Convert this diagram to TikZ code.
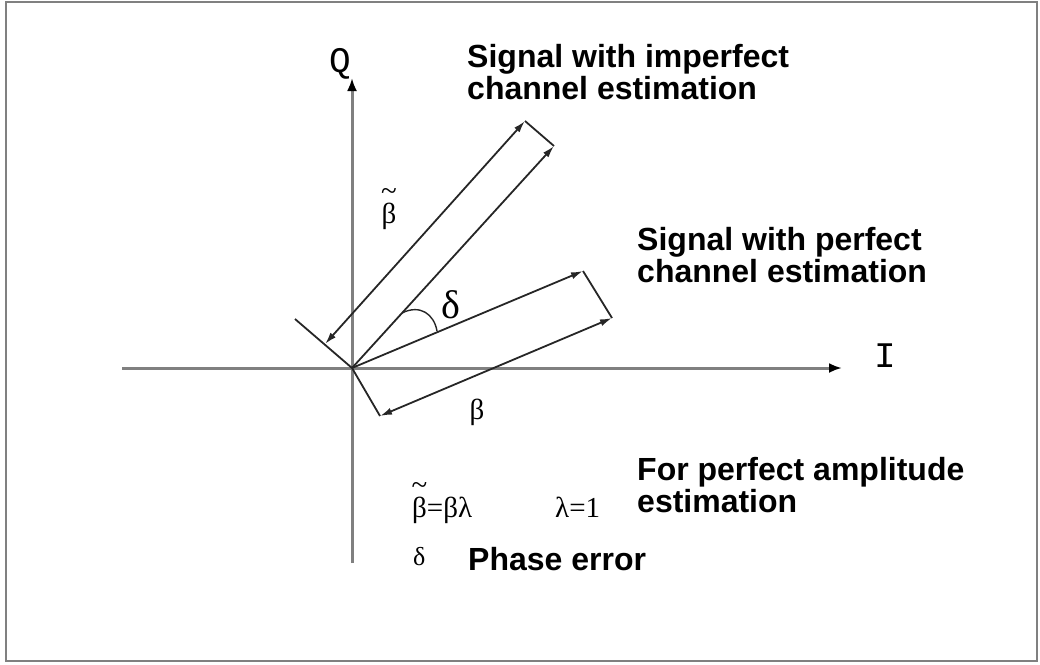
\documentclass[tikz,border=0pt]{standalone}
\usepackage{fontspec}
\setmainfont{Liberation Serif}
\newfontfamily\lsans{Liberation Sans}
\newfontfamily\lmono{Liberation Mono}
\usetikzlibrary{arrows.meta}
\newcommand\tildebeta{\setbox0\hbox{β}\rlap{\hbox to\wd0{\hss\raisebox{23pt}{\~{}}\hss}}β}
\begin{document}
\begin{tikzpicture}[x=1pt,y=-1pt,
  frame/.style={draw=black!50, line width=2.5pt},
  axis/.style={draw=black!50, line width=3pt, -{Latex[length=13pt,width=10pt,color=black]}},
  vec/.style={draw=black!85, line width=1.8pt},
  tipend/.style={-{Latex[length=12pt,width=7pt]}},
  tipboth/.style={{Latex[length=12pt,width=7pt]}-{Latex[length=12pt,width=7pt]}},
  lbl/.style={font=\lsans\bfseries\fontsize{32}{32}\selectfont, anchor=base west, inner sep=0pt},
  axlbl/.style={font=\lmono\fontsize{36}{36}\selectfont, inner sep=0pt},
  greek/.style={font=\fontsize{29}{29}\selectfont, inner sep=0pt},
]
\useasboundingbox (0,0) rectangle (1040,664);
\draw[frame] (6,2) rectangle (1037,661);

% coordinates
\coordinate (O) at (352,368);
\coordinate (Iw) at (122,368);
\coordinate (Ie) at (842,368);
\coordinate (Qs) at (352,563);
\coordinate (Qn) at (352,78);
\coordinate (A) at (554,146);
\coordinate (B) at (525,121);
\coordinate (C) at (325,344);
\coordinate (Cx) at (295,319);
\coordinate (D) at (583,271);
\coordinate (E) at (612,318);
\coordinate (F) at (380,416);
\coordinate (d1) at (402,313);
\coordinate (d2) at (437,331);

% axes
\draw[axis] (Iw) -- (Ie);
\draw[axis] (Qs) -- (Qn);

% imperfect estimation vector
\draw[vec] (Cx) -- (O);
\draw[vec, tipend] (O) -- (A);
\draw[vec] (B) -- (A);
\draw[vec, tipboth] (C) -- (B);

% perfect estimation vector
\draw[vec, tipend] (O) -- (D);
\draw[vec] (D) -- (E);
\draw[vec] (O) -- (F);
\draw[vec, tipboth] (F) -- (E);

% angle
\draw[vec, line width=1.4pt] (d1) .. controls (420,304) and (434,314) .. (d2);

% axis labels
\node[axlbl] (q) at (340,64) {Q};
\node[axlbl] (i) at (885,356) {I};

% greek labels
\node[greek, anchor=base] (b1) at (389,223) {\tildebeta};
\node[greek, font=\fontsize{40}{40}\selectfont] (dl) at (451,305) {δ};
\node[greek] (b2) at (477,412) {β};
\node[greek, anchor=base west] (form) at (412,517) {\tildebeta=βλ};
\node[greek, anchor=base west] (lam) at (555,517) {λ=1};
\node[greek, font=\fontsize{26}{26}\selectfont, anchor=base west] (d3) at (413,565) {δ};

% bold texts
\node[lbl] (t1) at (467,67) {Signal with imperfect};
\node[lbl] (t2) at (467,99) {channel estimation};
\node[lbl] (t3) at (637,250) {Signal with perfect};
\node[lbl] (t4) at (637,282) {channel estimation};
\node[lbl] (t5) at (637,480) {For perfect amplitude};
\node[lbl] (t6) at (637,512) {estimation};
\node[lbl] (t7) at (468,570) {Phase error};
\end{tikzpicture}
\end{document}
